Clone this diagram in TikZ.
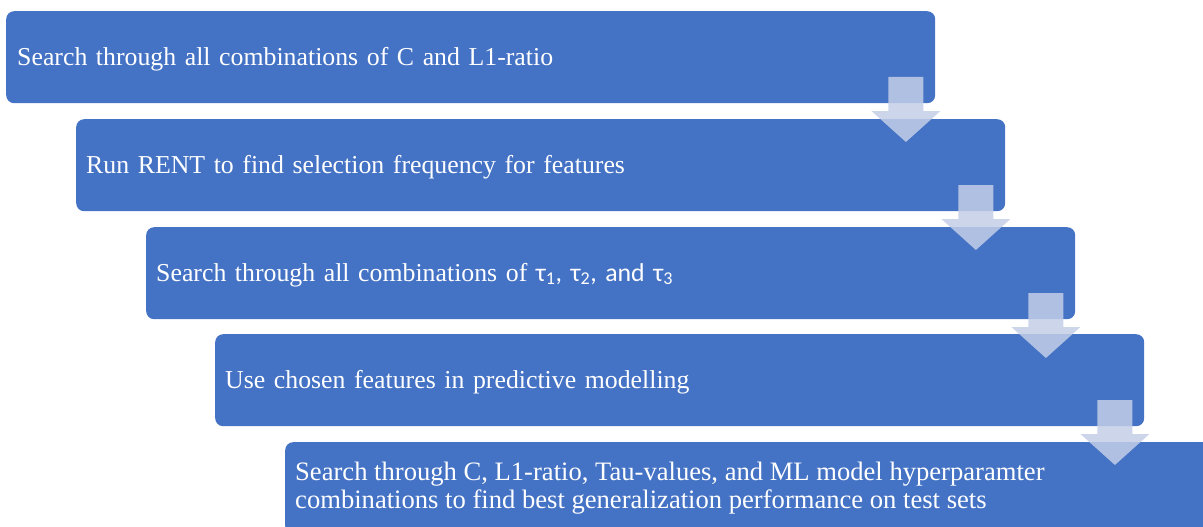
\documentclass[tikz,border=0pt]{standalone}
\usepackage{fontspec}
\setmainfont{Liberation Serif}
\newfontfamily\carlito{Carlito}
\usetikzlibrary{calc}
\definecolor{boxblue}{RGB}{68,114,196}
\definecolor{arrowfill}{RGB}{196,206,232}
\begin{document}
\begin{tikzpicture}[x=1pt,y=-1pt,
  stepbox/.style={draw=none,fill=boxblue,rounded corners=8pt,anchor=north west,
    minimum width=929pt,minimum height=92pt,inner sep=0pt,
    text=white,font=\fontsize{25.8}{28}\selectfont},
  oneline/.style={text width=909pt,align=left,text height=19pt,text depth=3pt},
  arr/.style={fill=arrowfill,fill opacity=0.85,draw=none}]
\useasboundingbox (0,0) rectangle (1203,527);
\clip (0,0) rectangle (1203,527);
\node[stepbox,oneline] (b1) at (6,11) {\hspace*{1pt}Search through all combinations of C and L1-ratio};
\node[stepbox,oneline] (b2) at (76,119) {Run RENT to find selection frequency for features};
\node[stepbox,oneline] (b3) at (146,227) {Search through all combinations of {\carlito τ\textsubscript{1}, τ\textsubscript{2}, and τ\textsubscript{3}}};
\node[stepbox,oneline] (b4) at (215,334) {Use chosen features in predictive modelling};
\node[stepbox,font=\fontsize{26.6}{28}\selectfont] (b5) at (285,442) {\raisebox{-3.5pt}{\parbox{909pt}{\raggedright Search through C, L1-ratio, Tau-values, and ML model hyperparamter\\combinations to find best generalization performance on test sets}}};
\foreach \a in {b1,b2,b3,b4}{
  \path[arr] ($(\a.north east)+(-47,66)$) -- ++(35,0) -- ++(0,34) -- ++(17,0)
    -- ++(-34.5,31) -- ++(-34.5,-31) -- ++(17,0) -- cycle;
}
\end{tikzpicture}
\end{document}
